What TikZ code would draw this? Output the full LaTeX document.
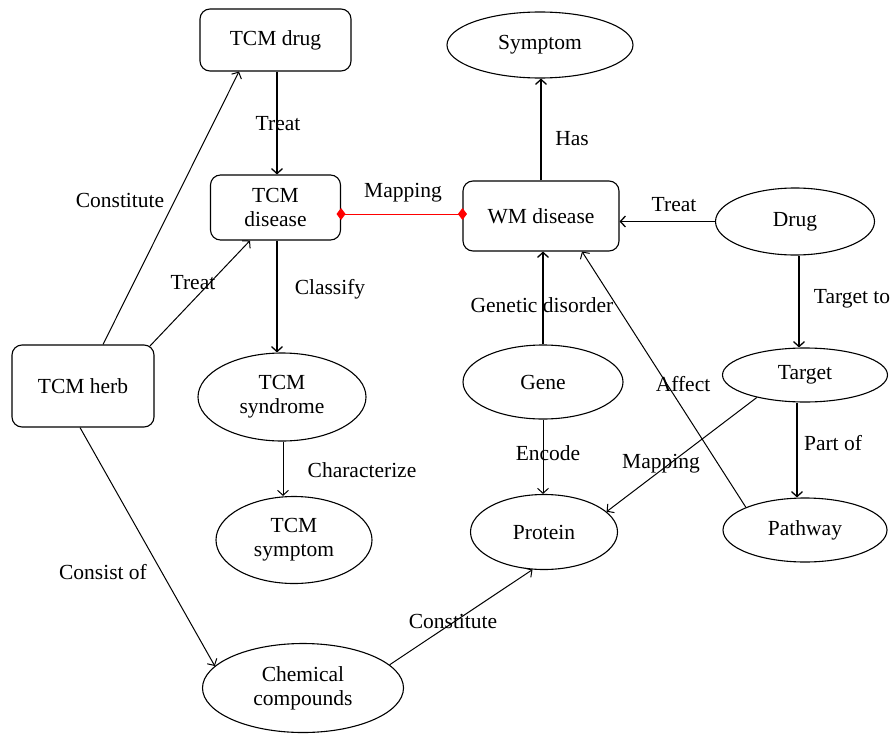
\documentclass[tikz,border=0pt]{standalone}
\usepackage{fontspec}
\setmainfont{Liberation Serif}
\usetikzlibrary{arrows.meta,shapes.geometric,calc}
\begin{document}
\begin{tikzpicture}[x=1pt,y=-1pt,
  font=\fontsize{21.5}{24}\selectfont,
  rbox/.style={draw,rounded corners=10pt,line width=1.1pt,inner sep=0pt,align=center},
  ell/.style={draw,ellipse,line width=1.1pt,inner sep=0pt,align=center},
  lbl/.style={inner sep=0pt,align=center},
  arr/.style={line width=1pt,-{Straight Barb[length=5pt,width=11pt,line width=1pt]}},
  varr/.style={line width=1.7pt,-{Straight Barb[length=5pt,width=11pt,line width=1.3pt]}},
  maplink/.style={red,line width=0.9pt,{Diamond[length=9pt,width=12pt]}-{Diamond[length=9pt,width=12pt]},shorten <=-4.5pt,shorten >=-4.5pt}
]
\useasboundingbox (0,0) rectangle (890,733);

% nodes
\node[rbox,minimum width=151pt,minimum height=62pt] (tdrug) at (275.5,40) {TCM drug};
\node[rbox,minimum width=130pt,minimum height=65pt] (tdis) at (275.5,207.5) {TCM\\disease};
\node[rbox,minimum width=156pt,minimum height=70pt] (wm) at (541,216) {WM disease};
\node[rbox,minimum width=142pt,minimum height=82pt] (herb) at (83,386) {TCM herb};
\node[ell,minimum width=186pt,minimum height=66pt] (symp) at (540,45) {Symptom};
\node[ell,minimum width=159pt,minimum height=67pt] (drug) at (795,221.5) {Drug};
\node[ell,minimum width=168pt,minimum height=88pt] (syn) at (282,397) {TCM\\syndrome};
\node[ell,minimum width=156pt,minimum height=87pt] (tsym) at (294,540) {TCM\\symptom};
\node[ell,minimum width=201pt,minimum height=89pt] (chem) at (303,688) {Chemical\\compounds};
\node[ell,minimum width=160pt,minimum height=74pt] (gene) at (543,382) {Gene};
\node[ell,minimum width=147pt,minimum height=75pt] (prot) at (544,532) {Protein};
\node[ell,minimum width=165pt,minimum height=54pt] (target) at (805,375) {Target};
\node[ell,minimum width=164pt,minimum height=64pt] (path) at (805,530) {Pathway};

% connectors
\draw[varr] ([xshift=1.5pt]tdrug.south) -- ([xshift=1.5pt]tdrug.south |- tdis.north);
\draw[arr] ([xshift=20pt]herb.north) -- ([xshift=-36.5pt]tdrug.south);
\draw[arr] ([xshift=-5pt,yshift=-2pt]herb.north east) -- ([xshift=-25.5pt]tdis.south);
\draw[varr] ([xshift=1.5pt]tdis.south) -- ([xshift=1.5pt]tdis.south |- syn.north);
\draw[arr] ([xshift=1pt]syn.south) -- ([xshift=1pt]syn.south |- tsym.north);
\draw[arr] ([xshift=-3pt]herb.south) -- (chem.166);
\draw[arr] (chem.15) -- (prot.-107);
\draw[maplink] ([yshift=-6.5pt]tdis.east) -- ([yshift=-6.5pt]tdis.east -| wm.west);
\draw[varr] (wm.north) -- (wm.north |- symp.south);
\draw[varr] (drug.west) -- (drug.west -| wm.east);
\draw[varr] (gene.north) -- (gene.north |- wm.south);
\draw[arr] (gene.south) -- (gene.south |- prot.north);
\draw[varr] ([xshift=4pt]drug.south) -- ([xshift=4pt]drug.south |- target.north);
\draw[varr] ([xshift=-8pt]target.south) -- ([xshift=-8pt]target.south |- path.north);
\draw[arr] (target.205) -- (prot.18);
\draw[arr] (path.159) -- ([xshift=41pt]wm.south);

% labels
\node[lbl] (l1) at (278,124) {Treat};
\node[lbl] (l2) at (120,200) {Constitute};
\node[lbl] (l3) at (193,283) {Treat};
\node[lbl] (l4) at (330,289) {Classify};
\node[lbl] (l5) at (403,193) {Mapping};
\node[lbl] (l6) at (572,139) {Has};
\node[lbl] (l7) at (674,205) {Treat};
\node[lbl] (l8) at (852,299) {Target to};
\node[lbl] (l9) at (542,305) {Genetic disorder};
\node[lbl] (l10) at (683,384) {Affect};
\node[lbl] (l11) at (548,453) {Encode};
\node[lbl] (l12) at (661,464) {Mapping};
\node[lbl] (l13) at (833,443) {Part of};
\node[lbl] (l14) at (362,470) {Characterize};
\node[lbl] (l15) at (103,572) {Consist of};
\node[lbl] (l16) at (453,621) {Constitute};
\end{tikzpicture}
\end{document}
